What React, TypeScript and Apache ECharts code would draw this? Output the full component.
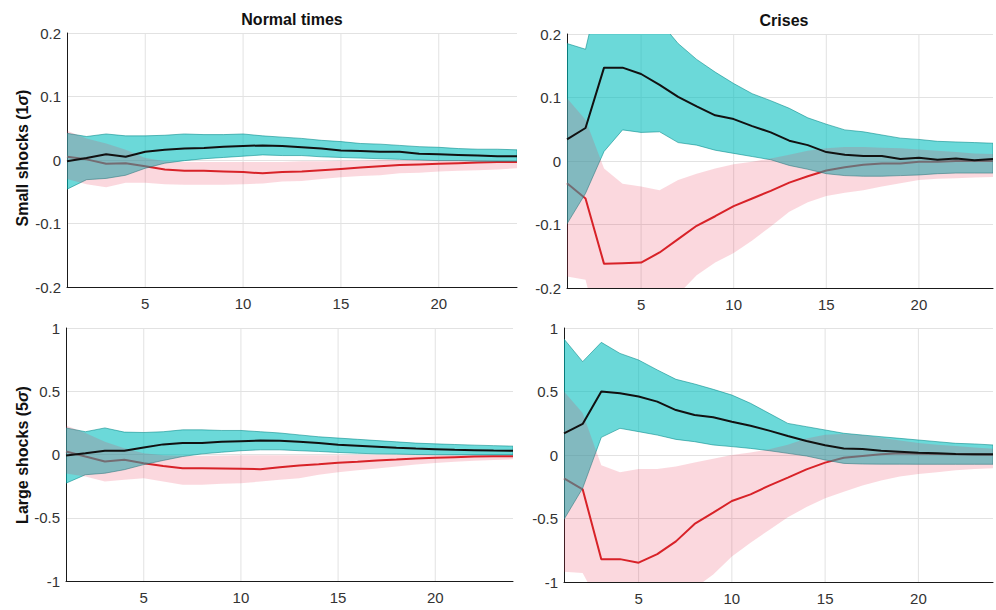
import React, { useEffect, useRef } from "react";
import * as echarts from "echarts";

// Horizons (x axis)
const horizons = [1, 2, 3, 4, 5, 6, 7, 8, 9, 10, 11, 12, 13, 14, 15, 16, 17, 18, 19, 20, 21, 22, 23, 24];
const gridTicks = [5, 10, 15, 20];

// ---------- Normal times, small shocks ----------
const nsBlack = [-0.002, 0.003, 0.009, 0.005, 0.013, 0.016, 0.018, 0.019, 0.021, 0.022, 0.023, 0.022, 0.02, 0.018, 0.015, 0.014, 0.013, 0.013, 0.01, 0.009, 0.008, 0.007, 0.006, 0.006];
const nsRed = [0.005, 0.001, -0.006, -0.005, -0.01, -0.015, -0.017, -0.017, -0.018, -0.019, -0.021, -0.019, -0.018, -0.016, -0.014, -0.012, -0.01, -0.008, -0.007, -0.006, -0.005, -0.004, -0.003, -0.003];
const nsTealHi = [0.042, 0.037, 0.041, 0.038, 0.038, 0.039, 0.041, 0.04, 0.04, 0.041, 0.038, 0.036, 0.034, 0.031, 0.029, 0.026, 0.025, 0.023, 0.021, 0.02, 0.018, 0.017, 0.017, 0.016];
const nsTealLo = [-0.046, -0.031, -0.029, -0.024, -0.013, -0.005, -0.001, 0.002, 0.004, 0.006, 0.008, 0.007, 0.007, 0.005, 0.004, 0.003, 0.002, 0.001, 0.0, -0.001, -0.001, -0.002, -0.002, -0.002];
const nsPinkHi = [0.046, 0.034, 0.026, 0.016, 0.003, -0.002, -0.003, -0.003, -0.003, -0.003, -0.003, -0.003, -0.002, -0.002, -0.001, -0.001, 0.0, 0.0, 0.0, 0.0, 0.0, 0.0, -0.001, -0.001];
const nsPinkLo = [-0.03, -0.038, -0.043, -0.036, -0.036, -0.038, -0.039, -0.039, -0.039, -0.038, -0.037, -0.034, -0.033, -0.03, -0.027, -0.025, -0.024, -0.021, -0.02, -0.018, -0.017, -0.016, -0.015, -0.013];

// ---------- Crises, small shocks ----------
const csBlack = [0.034, 0.052, 0.147, 0.147, 0.137, 0.12, 0.101, 0.086, 0.072, 0.066, 0.055, 0.045, 0.032, 0.025, 0.014, 0.01, 0.008, 0.008, 0.003, 0.005, 0.002, 0.004, 0.001, 0.003];
const csRed = [-0.035, -0.059, -0.162, -0.161, -0.16, -0.144, -0.123, -0.102, -0.087, -0.071, -0.059, -0.047, -0.034, -0.024, -0.015, -0.01, -0.006, -0.004, -0.004, -0.001, -0.001, 0.0, 0.0, 0.0];
const csTealHi = [0.185, 0.176, 0.3, 0.3, 0.27, 0.22, 0.185, 0.16, 0.14, 0.122, 0.106, 0.095, 0.083, 0.068, 0.058, 0.049, 0.046, 0.041, 0.036, 0.034, 0.031, 0.03, 0.029, 0.028];
const csTealLo = [-0.099, -0.051, 0.015, 0.049, 0.045, 0.046, 0.029, 0.025, 0.017, 0.012, 0.007, 0.002, -0.007, -0.013, -0.02, -0.023, -0.024, -0.024, -0.023, -0.022, -0.02, -0.019, -0.019, -0.019];
const csPinkHi = [0.099, 0.065, -0.012, -0.036, -0.04, -0.046, -0.03, -0.02, -0.012, -0.005, -0.001, 0.004, 0.01, 0.016, 0.02, 0.022, 0.022, 0.021, 0.02, 0.018, 0.016, 0.014, 0.012, 0.011];
const csPinkLo = [-0.182, -0.187, -0.3, -0.32, -0.31, -0.27, -0.21, -0.18, -0.16, -0.145, -0.125, -0.103, -0.08, -0.065, -0.055, -0.05, -0.046, -0.04, -0.035, -0.03, -0.028, -0.027, -0.026, -0.025];

// ---------- Normal times, large shocks ----------
const nlBlack = [-0.008, 0.01, 0.03, 0.03, 0.055, 0.08, 0.09, 0.09, 0.1, 0.105, 0.11, 0.108, 0.1, 0.09, 0.077, 0.069, 0.061, 0.053, 0.047, 0.042, 0.037, 0.034, 0.031, 0.029];
const nlRed = [0.024, -0.016, -0.055, -0.042, -0.069, -0.09, -0.108, -0.108, -0.11, -0.113, -0.116, -0.1, -0.087, -0.077, -0.066, -0.058, -0.047, -0.04, -0.032, -0.026, -0.021, -0.016, -0.013, -0.013];
const nlTealHi = [0.21, 0.18, 0.21, 0.177, 0.174, 0.18, 0.195, 0.195, 0.19, 0.19, 0.18, 0.17, 0.155, 0.14, 0.13, 0.12, 0.11, 0.1, 0.09, 0.084, 0.079, 0.074, 0.07, 0.066];
const nlTealLo = [-0.227, -0.16, -0.148, -0.12, -0.08, -0.047, -0.016, 0.005, 0.018, 0.03, 0.037, 0.037, 0.03, 0.024, 0.016, 0.01, 0.005, 0.003, 0.0, -0.002, -0.003, -0.003, -0.003, -0.003];
const nlPinkHi = [0.23, 0.17, 0.1, 0.05, 0.01, -0.005, -0.01, -0.01, -0.008, -0.005, -0.005, -0.005, -0.005, -0.005, -0.005, -0.004, -0.003, -0.003, -0.003, -0.003, -0.003, -0.003, -0.003, -0.003];
const nlPinkLo = [-0.15, -0.174, -0.214, -0.2, -0.187, -0.214, -0.24, -0.24, -0.232, -0.227, -0.214, -0.2, -0.187, -0.16, -0.14, -0.125, -0.11, -0.095, -0.08, -0.068, -0.058, -0.05, -0.043, -0.038];

// ---------- Crises, large shocks ----------
const clBlack = [0.17, 0.245, 0.5, 0.486, 0.46, 0.42, 0.354, 0.315, 0.297, 0.262, 0.231, 0.192, 0.15, 0.11, 0.076, 0.052, 0.047, 0.034, 0.026, 0.018, 0.013, 0.008, 0.005, 0.005];
const clRed = [-0.184, -0.27, -0.82, -0.82, -0.848, -0.78, -0.68, -0.543, -0.454, -0.362, -0.31, -0.241, -0.178, -0.113, -0.06, -0.021, -0.008, 0.005, 0.013, 0.01, 0.008, 0.006, 0.004, 0.002];
const clTealHi = [0.913, 0.735, 0.887, 0.8, 0.748, 0.67, 0.596, 0.559, 0.517, 0.472, 0.407, 0.328, 0.249, 0.223, 0.197, 0.171, 0.157, 0.144, 0.131, 0.118, 0.105, 0.092, 0.087, 0.079];
const clTealLo = [-0.507, -0.262, 0.139, 0.21, 0.184, 0.157, 0.123, 0.105, 0.079, 0.066, 0.052, 0.034, 0.013, -0.008, -0.039, -0.066, -0.071, -0.072, -0.072, -0.073, -0.073, -0.073, -0.073, -0.073];
const clPinkHi = [0.5, 0.33, -0.08, -0.135, -0.11, -0.11, -0.09, -0.06, -0.03, 0.0, 0.02, 0.045, 0.08, 0.13, 0.16, 0.165, 0.155, 0.135, 0.115, 0.095, 0.08, 0.07, 0.06, 0.05];
const clPinkLo = [-0.92, -0.93, -1.2, -1.3, -1.3, -1.25, -1.15, -1.05, -0.94, -0.8, -0.69, -0.59, -0.49, -0.41, -0.34, -0.29, -0.24, -0.2, -0.17, -0.15, -0.135, -0.12, -0.11, -0.105];

const columnTitles = ["Normal times", "Crises"];
const rowTitles = ["Small shocks (1{s|σ})", "Large shocks (5{s|σ})"];
const smallTicks = [-0.2, 0.2, 0.1];
const largeTicks = [-1, 1, 0.5];

const FONT = "'Liberation Sans', Arial, Helvetica, sans-serif";
const TEAL_FILL = "rgba(0,190,190,0.58)";
const TEAL_EDGE = "rgba(0,135,135,0.55)";
const PINK_FILL = "rgba(232,50,80,0.19)";
const RED = "#d41f1f";
const BLACK = "#111111";
const GRID = "#e2e2e2";

type Panel = {
  grid: { left: number; top: number; width: number; height: number };
  ticks: number[];
  black: number[];
  red: number[];
  tealHi: number[];
  tealLo: number[];
  pinkHi: number[];
  pinkLo: number[];
};

const panels: Panel[] = [
  { grid: { left: 67, top: 33, width: 450, height: 254 }, ticks: smallTicks, black: nsBlack, red: nsRed, tealHi: nsTealHi, tealLo: nsTealLo, pinkHi: nsPinkHi, pinkLo: nsPinkLo },
  { grid: { left: 567, top: 34, width: 435, height: 254 }, ticks: smallTicks, black: csBlack, red: csRed, tealHi: csTealHi, tealLo: csTealLo, pinkHi: csPinkHi, pinkLo: csPinkLo },
  { grid: { left: 66, top: 328, width: 447, height: 253 }, ticks: largeTicks, black: nlBlack, red: nlRed, tealHi: nlTealHi, tealLo: nlTealLo, pinkHi: nlPinkHi, pinkLo: nlPinkLo },
  { grid: { left: 564, top: 328, width: 439, height: 254 }, ticks: largeTicks, black: clBlack, red: clRed, tealHi: clTealHi, tealLo: clTealLo, pinkHi: clPinkHi, pinkLo: clPinkLo },
];

function band(idx: number, lo: number[], hi: number[], fill: string, stroke: string | null, z: number) {
  return {
    type: "custom",
    xAxisIndex: idx,
    yAxisIndex: idx,
    clip: true,
    silent: true,
    z,
    data: [[horizons[0], lo[0]]],
    renderItem: (_params: any, api: any) => {
      const pts: number[][] = [];
      for (let i = 0; i < horizons.length; i++) pts.push(api.coord([horizons[i], hi[i]]));
      for (let i = horizons.length - 1; i >= 0; i--) pts.push(api.coord([horizons[i], lo[i]]));
      return {
        type: "polygon",
        shape: { points: pts },
        style: { fill, stroke: stroke || "none", lineWidth: stroke ? 1 : 0 },
      };
    },
  };
}

function line(idx: number, vals: number[], color: string, z: number, width = 2) {
  return {
    type: "line",
    xAxisIndex: idx,
    yAxisIndex: idx,
    silent: true,
    z,
    symbol: "none",
    showSymbol: false,
    data: horizons.map((h, i) => [h, vals[i]]),
    lineStyle: { color, width },
  };
}

function vline(idx: number, x: number, yMin: number, yMax: number) {
  return {
    type: "line",
    xAxisIndex: idx,
    yAxisIndex: idx,
    silent: true,
    z: 1,
    symbol: "none",
    showSymbol: false,
    data: [
      [x, yMin],
      [x, yMax],
    ],
    lineStyle: { color: GRID, width: 1 },
  };
}

const fmtY = (v: number) => {
  if (Math.abs(v) < 1e-9) return "0";
  return String(Math.round(v * 10) / 10);
};

export default function App() {
  const ref = useRef<HTMLDivElement>(null);

  useEffect(() => {
    if (!ref.current) return;
    const chart = echarts.init(ref.current, undefined, { renderer: "svg" });

    const grids: any[] = [];
    const xAxes: any[] = [];
    const yAxes: any[] = [];
    const series: any[] = [];

    panels.forEach((p, idx) => {
      const [yMin, yMax, yInt] = p.ticks;
      grids.push({ ...p.grid, containLabel: false });
      xAxes.push({
        type: "value",
        gridIndex: idx,
        min: horizons[0],
        max: horizons[horizons.length - 1],
        interval: 1,
        axisLine: { show: true, onZero: false, lineStyle: { color: "#1a1a1a", width: 1 } },
        axisTick: { show: false },
        splitLine: { show: false },
        axisLabel: {
          margin: 9,
          color: "#333",
          fontSize: 15,
          fontFamily: FONT,
          formatter: (v: number) => (gridTicks.indexOf(v) >= 0 ? String(v) : ""),
        },
      });
      yAxes.push({
        type: "value",
        gridIndex: idx,
        min: yMin,
        max: yMax,
        interval: yInt,
        axisLine: { show: true, lineStyle: { color: "#1a1a1a", width: 1 } },
        axisTick: { show: false },
        splitLine: { show: true, lineStyle: { color: GRID, width: 1 } },
        axisLabel: { margin: 6, color: "#333", fontSize: 15, fontFamily: FONT, formatter: fmtY },
      });
      gridTicks.forEach((g) => series.push(vline(idx, g, yMin, yMax)));
      series.push(line(idx, p.red, RED, 2));
      series.push(band(idx, p.tealLo, p.tealHi, TEAL_FILL, TEAL_EDGE, 3));
      series.push(band(idx, p.pinkLo, p.pinkHi, PINK_FILL, null, 4));
      series.push(line(idx, p.black, BLACK, 5));
    });

    const titleStyle = (text: string) => ({
      text,
      fontSize: 16,
      fontWeight: "bold",
      fontFamily: FONT,
      fill: "#111",
      align: "center",
      verticalAlign: "middle",
      textAlign: "center",
      textVerticalAlign: "middle",
      rich: {
        s: { fontSize: 16, fontStyle: "italic", fontWeight: "bold", fontFamily: FONT, fill: "#111" },
      },
    });

    const graphic: any[] = [
      { type: "text", x: 292, y: 19, style: titleStyle(columnTitles[0]) },
      { type: "text", x: 784, y: 20, style: titleStyle(columnTitles[1]) },
      { type: "text", x: 22, y: 158, rotation: Math.PI / 2, style: titleStyle(rowTitles[0]) },
      { type: "text", x: 22, y: 455, rotation: Math.PI / 2, style: titleStyle(rowTitles[1]) },
    ];

    chart.setOption({
      animation: false,
      backgroundColor: "#ffffff",
      grid: grids,
      xAxis: xAxes,
      yAxis: yAxes,
      series,
      graphic,
    });

    return () => chart.dispose();
  }, []);

  return (
    <div
      ref={ref}
      style={{ position: "fixed", left: 0, top: 0, width: 996, height: 610, background: "#fff" }}
    />
  );
}
